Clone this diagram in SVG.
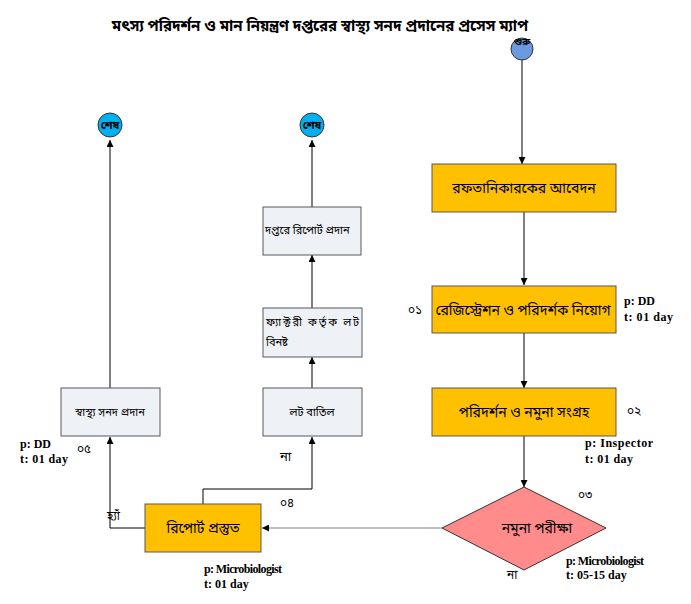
<svg xmlns="http://www.w3.org/2000/svg" width="691" height="604" viewBox="0 0 691 604">
<defs>
<marker id="ah" viewBox="0 0 10 10" refX="10" refY="5" markerWidth="7" markerHeight="7" orient="auto" markerUnits="userSpaceOnUse">
<path d="M0,0 L10,5 L0,10 z" fill="#000"/>
</marker>
</defs>
<style>
.bn{font-family:"Noto Sans Bengali","Lohit Bengali","FreeSans","Noto Sans",sans-serif;fill:#000}
.ob{fill:#FFC000;stroke:#595959;stroke-width:1}
.gb{fill:#EEF1F6;stroke:#595959;stroke-width:1}
.big{font-size:14px;text-anchor:middle}
.sm{font-size:11px}
.num{font-size:12px}
.pt{font-family:"Liberation Serif","Times New Roman",serif;font-weight:bold;font-size:12px;fill:#000}
.ln{fill:none;stroke:#000;stroke-width:1}
.end{fill:#00B0F0;stroke:#333;stroke-width:1}
</style>
<rect width="691" height="604" fill="#fff"/>
<text class="bn" x="320" y="31" font-size="15" font-weight="bold" text-anchor="middle">মৎস্য পরিদর্শন ও মান নিয়ন্ত্রণ দপ্তরের স্বাস্থ্য সনদ প্রদানের প্রসেস ম্যাপ</text>

<g id="connectors">
<path class="ln" d="M522,60 L522,164" marker-end="url(#ah)"/>
<path class="ln" d="M524,212 L524,285" marker-end="url(#ah)"/>
<path class="ln" d="M524,333 L524,388" marker-end="url(#ah)"/>
<path class="ln" d="M524,436 L524,487" marker-end="url(#ah)"/>
<path d="M442,528 L262,528" fill="none" stroke="#7F7F7F" stroke-width="1" marker-end="url(#ah)"/>
<path class="ln" d="M145,528 L110,528 L110,437" marker-end="url(#ah)"/>
<path class="ln" d="M110,388 L110,140" marker-end="url(#ah)"/>
<path class="ln" d="M203,504 L203,489 L312,489 L312,437" marker-end="url(#ah)"/>
<path class="ln" d="M312,388 L312,357" marker-end="url(#ah)"/>
<path class="ln" d="M312,308 L312,255" marker-end="url(#ah)"/>
<path class="ln" d="M312,207 L312,140" marker-end="url(#ah)"/>
</g>

<g id="start">
<circle cx="522" cy="49" r="11" fill="#6A9BE0" stroke="#333" stroke-width="1"/>
<text class="bn" x="522" y="45" font-size="10" font-weight="bold" text-anchor="middle">শুরু</text>
</g>

<g id="n1">
<rect class="ob" x="432" y="164" width="184" height="48"/>
<text class="bn big" x="524" y="193">রফতানিকারকের আবেদন</text>
</g>

<g id="n2">
<rect class="ob" x="432" y="286" width="184" height="47"/>
<text class="bn big" x="523" y="315">রেজিস্ট্রেশন ও পরিদর্শক নিয়োগ</text>
<text class="bn num" x="408" y="314">০১</text>
<text class="pt" x="624" y="305">p: DD</text>
<text class="pt" x="624" y="321" textLength="49">t: 01 day</text>
</g>

<g id="n3">
<rect class="ob" x="432" y="388" width="184" height="48"/>
<text class="bn big" x="524" y="417">পরিদর্শন ও নমুনা সংগ্রহ</text>
<text class="bn num" x="627" y="415">০২</text>
<text class="pt" x="585" y="447" textLength="68">p: Inspector</text>
<text class="pt" x="585" y="463" textLength="48">t: 01 day</text>
</g>

<g id="n4">
<polygon points="524,487 606,528 524,570 442,528" fill="#FF8B8B" stroke="#333" stroke-width="1"/>
<text class="bn big" x="537" y="533">নমুনা পরীক্ষা</text>
<text class="bn num" x="578" y="499">০৩</text>
<text class="bn num" x="507" y="579">না</text>
<text class="pt" x="566" y="565" font-size="11" textLength="78">p: Microbiologist</text>
<text class="pt" x="566" y="579" font-size="11">t: 05-15 day</text>
</g>

<g id="n5">
<rect class="ob" x="145" y="504" width="116" height="48"/>
<text class="bn big" x="203" y="533">রিপোর্ট  প্রস্তুত</text>
<text class="pt" x="204" y="573" font-size="11" textLength="78">p: Microbiologist</text>
<text class="pt" x="204" y="588" font-size="11">t: 01 day</text>
<text class="bn num" x="107" y="520">হ্যাঁ</text>
<text class="bn" x="280" y="461" font-size="13">না</text>
<text class="bn num" x="280" y="507">০৪</text>
</g>

<g id="n6">
<rect class="gb" x="61" y="388" width="99" height="48"/>
<text class="bn sm" x="110" y="416" text-anchor="middle">স্বাস্থ্য সনদ প্রদান</text>
<text class="bn num" x="77" y="453">০৫</text>
<text class="pt" x="20" y="448">p: DD</text>
<text class="pt" x="20" y="463" textLength="48">t: 01 day</text>
</g>

<g id="n7">
<rect class="gb" x="263" y="388" width="99" height="48"/>
<text class="bn sm" x="312" y="416" text-anchor="middle">লট বাতিল</text>
</g>

<g id="n8">
<rect class="gb" x="263" y="308" width="99" height="49"/>
<text class="bn sm" x="266" y="326" textLength="93" lengthAdjust="spacing">ফ্যাক্টরী কর্তৃক লট</text>
<text class="bn sm" x="266" y="346">বিনষ্ট</text>
</g>

<g id="n9">
<rect class="gb" x="263" y="207" width="98" height="48"/>
<text class="bn sm" x="265" y="234">দপ্তরে রিপোর্ট প্রদান</text>
</g>

<g id="end1">
<circle class="end" cx="110" cy="125" r="12"/>
<text class="bn" x="110" y="129" font-size="11" font-weight="bold" text-anchor="middle">শেষ</text>
</g>

<g id="end2">
<circle class="end" cx="312" cy="125" r="12"/>
<text class="bn" x="312" y="129" font-size="11" font-weight="bold" text-anchor="middle">শেষ</text>
</g>
</svg>
